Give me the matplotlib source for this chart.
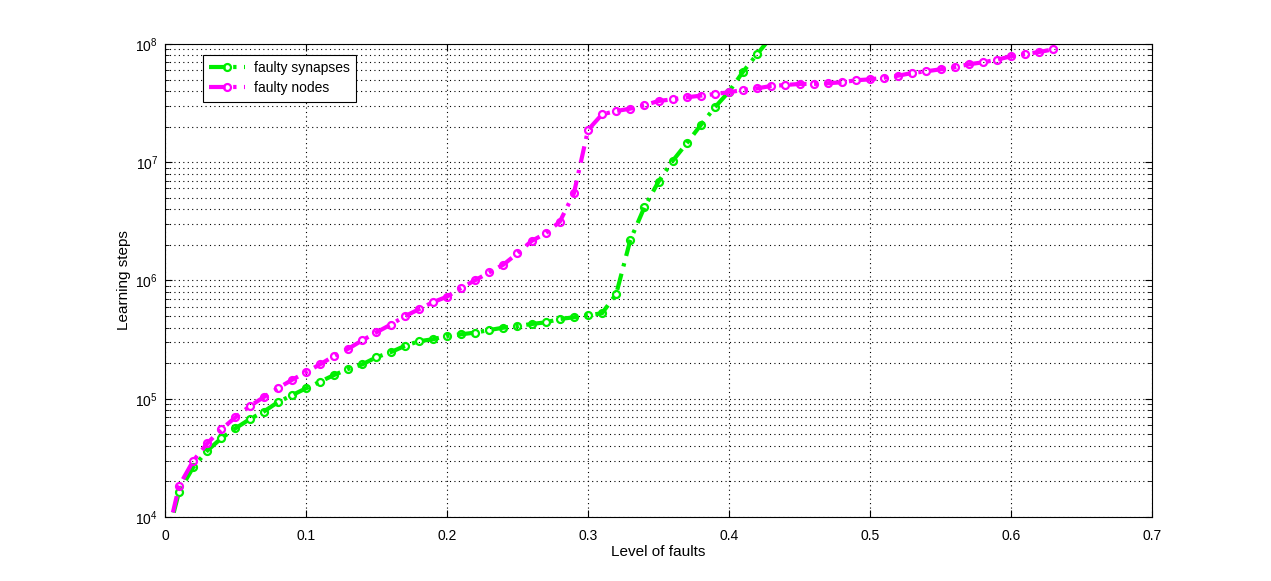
import numpy as np
import matplotlib
matplotlib.use("Agg")
import matplotlib.pyplot as plt
from matplotlib.ticker import LogLocator, FixedLocator, NullFormatter

plt.rcParams['font.family'] = ['Liberation Sans', 'DejaVu Sans']

# log10 of learning steps
syn_x = [round(0.01 * i, 2) for i in range(0, 44)]
syn_log = [3.75, 4.214, 4.420, 4.561, 4.666, 4.750, 4.826, 4.891, 4.970, 5.029,
           5.088, 5.144, 5.201, 5.252, 5.291, 5.351, 5.393, 5.446, 5.486, 5.503,
           5.531, 5.545, 5.559, 5.581, 5.601, 5.615, 5.632, 5.646, 5.674, 5.689,
           5.706, 5.723, 5.886, 6.342, 6.619, 6.836, 7.011, 7.160, 7.315, 7.465,
           7.597, 7.766, 7.915, 8.06]

node_x = [round(0.01 * i, 2) for i in range(0, 64)]
node_log = [3.75, 4.262, 4.474, 4.623, 4.742, 4.843, 4.936, 5.013, 5.088, 5.159,
            5.224, 5.291, 5.362, 5.423, 5.494, 5.562, 5.626, 5.697, 5.756, 5.816,
            5.863, 5.937, 6.002, 6.069, 6.134, 6.230, 6.334, 6.399, 6.497, 6.737,
            7.273, 7.405, 7.433, 7.453, 7.482, 7.518, 7.532, 7.549, 7.563, 7.577,
            7.592, 7.611, 7.625, 7.645, 7.653, 7.662, 7.662, 7.668, 7.676, 7.693,
            7.701, 7.715, 7.732, 7.755, 7.769, 7.786, 7.803, 7.828, 7.845, 7.867,
            7.896, 7.915, 7.932, 7.955]

syn_y = 10 ** np.array(syn_log)
node_y = 10 ** np.array(node_log)

fig = plt.figure(figsize=(12.71, 5.81), dpi=100)
ax = fig.add_axes([0.1298, 0.1102, 0.7766, 0.8141])

dashdot = (0, (4, 1.8, 0.8, 1.8))
ax.plot(syn_x, syn_y, linestyle=dashdot, color='#00ee00', linewidth=3,
        marker='o', markersize=5, markerfacecolor='none', markeredgewidth=1.6,
        label='faulty synapses')
ax.plot(node_x, node_y, linestyle=dashdot, color='#ff00ff', linewidth=3,
        marker='o', markersize=5, markerfacecolor='none', markeredgewidth=1.6,
        label='faulty nodes')

ax.set_yscale('log')
ax.set_xlim(0, 0.7)
ax.set_ylim(1e4, 1e8)
ax.set_xticks(np.arange(0, 0.71, 0.1))
ax.set_xticklabels(['0', '0.1', '0.2', '0.3', '0.4', '0.5', '0.6', '0.7'])
ax.yaxis.set_major_locator(FixedLocator([1e4, 1e5, 1e6, 1e7, 1e8]))
ax.yaxis.set_minor_locator(LogLocator(base=10, subs=np.arange(2, 10)))
ax.yaxis.set_minor_formatter(NullFormatter())

# dotted grid, MATLAB style
grid_ls = (0, (1, 3))
ax.grid(True, which='major', axis='both', linestyle=grid_ls, color='black', linewidth=0.8)
ax.grid(True, which='minor', axis='y', linestyle=grid_ls, color='black', linewidth=0.8)

ax.tick_params(which='both', direction='in', top=True, right=True, labelsize=10)
ax.tick_params(which='major', length=5)
ax.tick_params(axis='x', which='major', pad=9)
ax.tick_params(axis='y', which='major', pad=5)
ax.tick_params(which='minor', length=3)
for s in ax.spines.values():
    s.set_linewidth(0.8)

ax.set_xlabel('Level of faults', fontsize=11)
ax.set_ylabel('Learning steps', fontsize=11)
ax.xaxis.set_label_coords(0.5, -0.059)
ax.yaxis.set_label_coords(-0.034, 0.5)

leg = ax.legend(loc='upper left', bbox_to_anchor=(0.0385, 0.977), borderaxespad=0,
                fancybox=False, edgecolor='black', framealpha=1, fontsize=10,
                handlelength=2.6, handletextpad=0.6, borderpad=0.45,
                labelspacing=0.45)
leg.get_frame().set_linewidth(0.8)

fig.savefig('out.png', dpi=100)
